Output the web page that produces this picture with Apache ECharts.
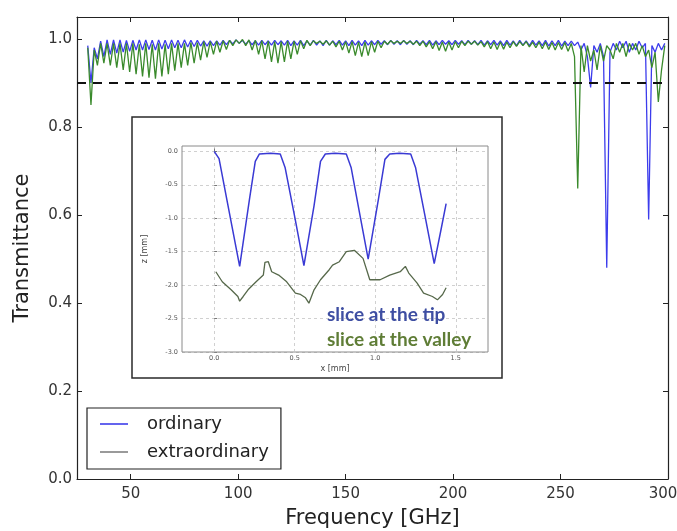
<!DOCTYPE html>
<html>
<head>
<meta charset="utf-8">
<script src="https://cdn.jsdelivr.net/npm/echarts@6/dist/echarts.min.js"></script>
<style>
html,body{margin:0;padding:0;background:#fff;}
#c{width:677px;height:531px;}
</style>
</head>
<body>
<div id="c"></div>
<script>
// ---- main chart data ----
const freq = [
30,31.5,33,34.5,36,37.5,39,40.5,42,43.5,
45,46.5,48,49.5,51,52.5,54,55.5,57,58.5,
60,61.5,63,64.5,66,67.5,69,70.5,72,73.5,
75,76.5,78,79.5,81,82.5,84,85.5,87,88.5,
90,91.5,93,94.5,96,97.5,99,100.5,102,103.5,
105,106.5,108,109.5,111,112.5,114,115.5,117,118.5,
120,121.5,123,124.5,126,127.5,129,130.5,132,133.5,
135,136.5,138,139.5,141,142.5,144,145.5,147,148.5,
150,151.5,153,154.5,156,157.5,159,160.5,162,163.5,
165,166.5,168,169.5,171,172.5,174,175.5,177,178.5,
180,181.5,183,184.5,186,187.5,189,190.5,192,193.5,
195,196.5,198,199.5,201,202.5,204,205.5,207,208.5,
210,211.5,213,214.5,216,217.5,219,220.5,222,223.5,
225,226.5,228,229.5,231,232.5,234,235.5,237,238.5,
240,241.5,243,244.5,246,247.5,249,250.5,252,253.5,
255,256.5,258,259.5,261,262.5,264,265.5,267,268.5,
270,271.5,273,274.5,276,277.5,279,280.5,282,283.5,
285,286.5,288,289.5,291,292.5,294,295.5,297,298.5
];
const ordinary = [
0.985,0.9,0.98,0.955,0.995,0.96,0.998,0.965,0.998,0.968,
0.998,0.97,0.997,0.972,0.997,0.975,0.998,0.975,0.998,0.976,
0.997,0.975,0.998,0.977,0.997,0.978,0.998,0.98,0.997,0.98,
0.998,0.982,0.997,0.983,0.997,0.984,0.996,0.984,0.996,0.985,
0.996,0.986,0.997,0.987,0.997,0.989,0.998,0.99,0.997,0.988,
0.996,0.987,0.996,0.986,0.997,0.987,0.996,0.986,0.997,0.987,
0.996,0.986,0.997,0.985,0.996,0.986,0.997,0.985,0.996,0.986,
0.997,0.986,0.996,0.985,0.997,0.986,0.996,0.987,0.997,0.986,
0.996,0.985,0.997,0.986,0.996,0.985,0.997,0.986,0.996,0.987,
0.997,0.988,0.996,0.987,0.997,0.988,0.996,0.987,0.997,0.988,
0.996,0.987,0.997,0.988,0.996,0.987,0.997,0.986,0.996,0.987,
0.997,0.988,0.996,0.987,0.997,0.988,0.996,0.987,0.997,0.988,
0.996,0.987,0.997,0.986,0.996,0.987,0.997,0.986,0.996,0.985,
0.997,0.986,0.996,0.985,0.997,0.986,0.996,0.985,0.997,0.986,
0.996,0.985,0.997,0.984,0.996,0.985,0.997,0.984,0.995,0.985,
0.995,0.985,0.993,0.975,0.99,0.96,0.89,0.985,0.97,0.99,
0.96,0.48,0.97,0.99,0.975,0.995,0.98,0.995,0.97,0.99,
0.975,0.995,0.98,0.99,0.59,0.985,0.97,0.99,0.975,0.99
];
const extraordinary = [
0.98,0.85,0.975,0.94,0.99,0.945,0.99,0.94,0.99,0.935,
0.99,0.93,0.99,0.925,0.99,0.92,0.988,0.915,0.99,0.912,
0.988,0.91,0.99,0.915,0.988,0.92,0.99,0.928,0.99,0.935,
0.99,0.94,0.992,0.945,0.992,0.952,0.994,0.958,0.994,0.965,
0.995,0.97,0.996,0.976,0.997,0.985,0.998,0.99,0.999,0.985,
0.998,0.975,0.997,0.965,0.996,0.955,0.995,0.948,0.994,0.945,
0.994,0.948,0.995,0.955,0.995,0.965,0.996,0.978,0.997,0.985,
0.996,0.99,0.995,0.988,0.996,0.986,0.995,0.982,0.995,0.975,
0.994,0.968,0.994,0.962,0.993,0.96,0.993,0.962,0.994,0.97,
0.995,0.98,0.995,0.988,0.996,0.99,0.995,0.99,0.996,0.99,
0.995,0.988,0.995,0.985,0.995,0.982,0.994,0.978,0.994,0.974,
0.993,0.972,0.993,0.975,0.994,0.98,0.995,0.985,0.995,0.988,
0.995,0.986,0.994,0.982,0.994,0.978,0.993,0.976,0.993,0.977,
0.993,0.98,0.994,0.983,0.994,0.985,0.994,0.982,0.993,0.98,
0.993,0.978,0.993,0.976,0.992,0.975,0.992,0.976,0.992,0.972,
0.99,0.96,0.66,0.985,0.925,0.985,0.95,0.975,0.93,0.985,
0.95,0.985,0.975,0.955,0.99,0.97,0.99,0.96,0.99,0.975,
0.99,0.965,0.985,0.96,0.975,0.935,0.97,0.857,0.93,0.985
];
const threshold = 0.9;
const xTicks = [50,100,150,200,250,300];
const yTicks = [0,0.2,0.4,0.6,0.8,1.0];

// ---- inset data (x [mm], z [mm]) ----
const tipX = [0,0.03,0.08,0.158,0.22,0.255,0.28,0.35,0.41,0.44,0.5,0.557,0.62,0.66,0.69,0.75,0.82,0.85,0.9,0.956,1.02,1.06,1.09,1.15,1.22,1.25,1.31,1.366,1.41,1.44];
const tipZ = [0,-0.11,-0.74,-1.72,-0.7,-0.15,-0.04,-0.03,-0.04,-0.24,-0.98,-1.71,-0.81,-0.15,-0.04,-0.03,-0.04,-0.24,-0.89,-1.61,-0.71,-0.12,-0.04,-0.03,-0.04,-0.24,-0.98,-1.68,-1.15,-0.78];
const valleyX = [0.01,0.05,0.105,0.147,0.158,0.18,0.21,0.26,0.305,0.315,0.336,0.357,0.4,0.45,0.504,0.536,0.567,0.588,0.62,0.66,0.714,0.735,0.777,0.82,0.87,0.924,0.966,1.03,1.09,1.155,1.187,1.208,1.26,1.30,1.355,1.386,1.418,1.44];
const valleyZ = [-1.80,-1.95,-2.07,-2.17,-2.24,-2.17,-2.07,-1.95,-1.85,-1.66,-1.65,-1.80,-1.85,-1.95,-2.12,-2.14,-2.19,-2.27,-2.07,-1.92,-1.77,-1.70,-1.65,-1.50,-1.48,-1.60,-1.92,-1.92,-1.85,-1.80,-1.72,-1.82,-1.97,-2.12,-2.17,-2.22,-2.14,-2.04];
const insetXTicks = [0,0.5,1.0,1.5];
const insetYTicks = [-3,-2.5,-2,-1.5,-1,-0.5,0];

const FONT = 'DejaVu Sans';
const BLUE = '#3c3cec';
const GREEN = '#3a8a2c';
const AX = '#222';

const chart = echarts.init(document.getElementById('c'), null, {renderer:'canvas'});

const mainTick = {show:true, inside:true, length:5, lineStyle:{color:AX, width:1}};
const option = {
  animation:false,
  backgroundColor:'#fff',
  textStyle:{fontFamily:FONT},
  grid:[
    {left:77, right:9, top:17, bottom:52, show:false, outerBoundsMode:'none', containLabel:false},
    {left:182, top:146, width:306, height:206, show:true, borderColor:'#8a8a8a', borderWidth:1,
     backgroundColor:'transparent', z:3, outerBoundsMode:'none', containLabel:false}
  ],
  legend:{
    orient:'vertical', left:87, top:408,
    padding:[6,12,7,13], itemGap:8, itemWidth:28, itemHeight:2, icon:'rect',
    borderColor:AX, borderWidth:1.2, backgroundColor:'#fff',
    textStyle:{fontSize:18, fontFamily:FONT, color:'#222', lineHeight:20, padding:[0,0,0,14]},
    data:[
      {name:'ordinary', itemStyle:{color:'#6464ee', borderWidth:0, borderColor:'#6464ee'}, lineStyle:{color:'#6464ee', width:0}},
      {name:'extraordinary', itemStyle:{color:'#9a9a9a', borderWidth:0, borderColor:'#9a9a9a'}, lineStyle:{color:'#9a9a9a', width:0}}
    ]
  },
  xAxis:[
    {gridIndex:0, type:'value', min:25, max:300, position:'bottom',
     name:'Frequency [GHz]', nameLocation:'middle', nameGap:29,
     nameTextStyle:{fontSize:21, color:'#222', fontFamily:FONT},
     axisLine:{show:true, onZero:false, lineStyle:{color:AX, width:1.2}},
     axisTick:Object.assign({customValues:xTicks}, mainTick),
     axisLabel:{customValues:xTicks, fontSize:15, color:'#333', margin:8, fontFamily:FONT,
       formatter:function(v){return v === 300 ? '{r|' + v + '}' : String(v);},
       rich:{r:{fontSize:15, color:'#333', fontFamily:FONT, padding:[0,10,0,0]}}},
     splitLine:{show:false}},
    {gridIndex:0, type:'value', min:25, max:300, position:'top',
     axisLine:{show:true, onZero:false, lineStyle:{color:AX, width:1.2}},
     axisTick:Object.assign({customValues:xTicks}, mainTick),
     axisLabel:{show:false}, splitLine:{show:false}},
    {gridIndex:1, type:'value', min:-0.2, max:1.7,
     name:'x [mm]', nameLocation:'middle', nameGap:13,
     nameTextStyle:{fontSize:8, color:'#444', fontFamily:FONT},
     axisLine:{show:false},
     axisTick:{show:true, inside:true, length:3, customValues:insetXTicks, lineStyle:{color:'#777'}},
     axisLabel:{customValues:insetXTicks, fontSize:6.5, color:'#555', margin:3,
       formatter:function(v){return v.toFixed(1);}},
     splitLine:{show:false}}
  ],
  yAxis:[
    {gridIndex:0, type:'value', min:0, max:1.05, position:'left',
     name:'Transmittance', nameLocation:'middle', nameGap:44, nameRotate:90,
     nameTextStyle:{fontSize:21, color:'#222', fontFamily:FONT},
     axisLine:{show:true, onZero:false, lineStyle:{color:AX, width:1.2}},
     axisTick:Object.assign({customValues:yTicks}, mainTick),
     axisLabel:{customValues:yTicks, fontSize:15, color:'#333', margin:5, fontFamily:FONT,
       formatter:function(v){return v.toFixed(1);}},
     splitLine:{show:false}},
    {gridIndex:0, type:'value', min:0, max:1.05, position:'right',
     axisLine:{show:true, onZero:false, lineStyle:{color:AX, width:1.2}},
     axisTick:Object.assign({customValues:yTicks}, mainTick),
     axisLabel:{show:false}, splitLine:{show:false}},
    {gridIndex:1, type:'value', min:-3, max:0.08, interval:0.5,
     name:'z [mm]', nameLocation:'middle', nameGap:33, nameRotate:90,
     nameTextStyle:{fontSize:8, color:'#444', fontFamily:FONT},
     axisLine:{show:false},
     axisTick:{show:true, inside:true, length:3, customValues:insetYTicks, lineStyle:{color:'#777'}},
     axisLabel:{customValues:insetYTicks, fontSize:6.5, color:'#555', margin:4,
       formatter:function(v){return v.toFixed(1);}},
     splitLine:{show:true, lineStyle:{color:'#c4c4c4', type:[3,3], width:0.8}}}
  ],
  graphic:[
    {type:'rect', z:-1, shape:{x:132, y:117, width:370, height:261},
     style:{fill:'#fff', stroke:'#2a2a2a', lineWidth:1.5}},
    {type:'text', z:50, left:327, top:305,
     style:{text:'slice at the tip', fill:'#3e4ea2', font:'bold 19px Lato'}},
    {type:'text', z:50, left:327, top:330,
     style:{text:'slice at the valley', fill:'#5f7d36', font:'bold 19px Lato'}}
  ],
  series:[
    {name:'ordinary', type:'line', xAxisIndex:0, yAxisIndex:0, showSymbol:false, z:3,
     lineStyle:{color:BLUE, width:1.3}, itemStyle:{color:BLUE},
     data:freq.map(function(f,i){return [f, ordinary[i]];})},
    {name:'extraordinary', type:'line', xAxisIndex:0, yAxisIndex:0, showSymbol:false, z:4,
     lineStyle:{color:GREEN, width:1.3}, itemStyle:{color:GREEN},
     data:freq.map(function(f,i){return [f, extraordinary[i]];}),
     markLine:{silent:true, symbol:'none', label:{show:false},
       lineStyle:{color:'#111', type:[9,7], width:1.8},
       data:[{yAxis:threshold}]}},
    {name:'slice at the tip', type:'line', xAxisIndex:2, yAxisIndex:2, showSymbol:false, z:6,
     lineStyle:{color:'#3a3ad4', width:1.5},
     data:tipX.map(function(x,i){return [x, tipZ[i]];}),
     markLine:{silent:true, symbol:'none', label:{show:false},
       lineStyle:{color:'#c4c4c4', type:[3,3], width:0.8},
       data:insetXTicks.map(function(v){return {xAxis:v};})}},
    {name:'slice at the valley', type:'line', xAxisIndex:2, yAxisIndex:2, showSymbol:false, z:6,
     lineStyle:{color:'#56684a', width:1.3},
     data:valleyX.map(function(x,i){return [x, valleyZ[i]];})}
  ]
};
chart.setOption(option);
</script>
</body>
</html>
